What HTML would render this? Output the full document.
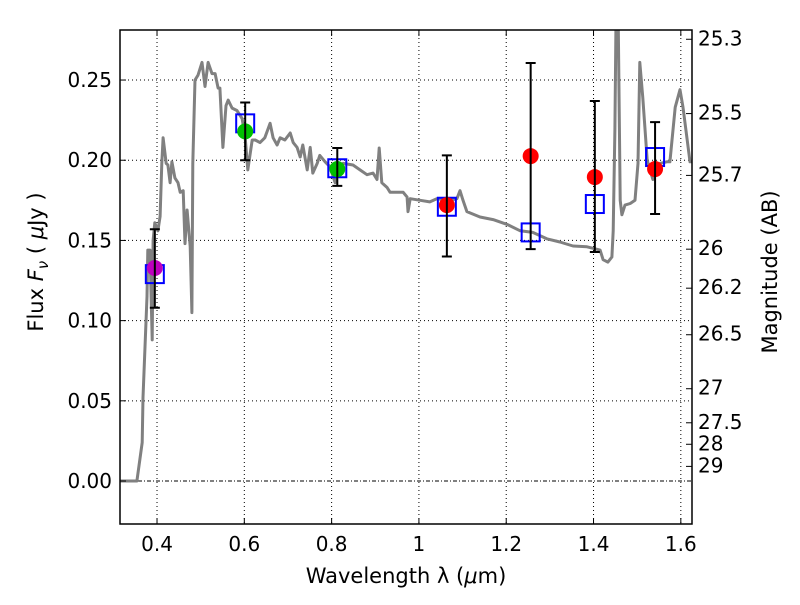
<!DOCTYPE html>
<html><head><meta charset="utf-8"><style>
body{margin:0;background:#fff}
svg text{font-family:"DejaVu Sans","Liberation Sans",sans-serif;fill:#000}
</style></head><body>
<svg id="chart" width="800" height="600" xmlns="http://www.w3.org/2000/svg">
<defs><clipPath id="clip"><rect x="120" y="30" width="572" height="494"/></clipPath></defs>
<rect x="0" y="0" width="800" height="600" fill="#fff"/>
<g id="grid"></g>
<g id="marks" clip-path="url(#clip)"></g>
<g id="pts"></g>
<rect x="120" y="30" width="572" height="494" fill="none" stroke="#000" stroke-width="1.5"/>
<g id="axes"></g>
<text x="406" y="583" font-size="21" text-anchor="middle">Wavelength  λ (<tspan font-style="italic">μ</tspan>m)</text>
<text transform="translate(43,262) rotate(-90)" font-size="21" text-anchor="middle">Flux  <tspan font-style="italic">F</tspan><tspan font-size="15" font-style="italic" dy="5">ν</tspan><tspan dy="-5">  ( </tspan><tspan font-style="italic">μ</tspan>Jy )</text>
<text transform="translate(777,272) rotate(-90)" font-size="21" text-anchor="middle">Magnitude (AB)</text>
</svg>
<script>
const specLam=[0.315,0.354,0.366,0.368,0.377,0.379,0.384,0.389,0.391,0.395,0.402,0.407,0.411,0.414,0.421,0.425,0.430,0.434,0.441,0.448,0.453,0.460,0.464,0.469,0.476,0.480,0.482,0.487,0.494,0.503,0.510,0.517,0.526,0.533,0.540,0.544,0.551,0.558,0.563,0.572,0.583,0.595,0.602,0.608,0.618,0.625,0.636,0.647,0.659,0.666,0.675,0.682,0.693,0.705,0.712,0.721,0.728,0.734,0.744,0.751,0.757,0.767,0.773,0.785,0.796,0.808,0.815,0.826,0.849,0.865,0.881,0.895,0.904,0.909,0.915,0.927,0.934,0.950,0.964,0.973,0.975,0.980,1.003,1.025,1.041,1.071,1.087,1.094,1.101,1.110,1.140,1.170,1.202,1.232,1.261,1.293,1.323,1.353,1.385,1.415,1.422,1.433,1.442,1.445,1.449,1.452,1.456,1.461,1.465,1.472,1.484,1.495,1.502,1.506,1.513,1.523,1.536,1.552,1.568,1.575,1.587,1.598,1.605,1.621,1.625];
const specFlux=[0,0,0.024,0.052,0.115,0.144,0.144,0.088,0.150,0.161,0.156,0.165,0.198,0.214,0.198,0.197,0.186,0.199,0.189,0.186,0.180,0.181,0.148,0.169,0.146,0.105,0.198,0.250,0.253,0.261,0.246,0.261,0.254,0.254,0.245,0.245,0.208,0.234,0.2375,0.2325,0.231,0.226,0.214,0.194,0.2126,0.2126,0.211,0.214,0.223,0.214,0.2095,0.214,0.2126,0.217,0.211,0.208,0.202,0.2095,0.194,0.208,0.192,0.198,0.203,0.199,0.196,0.186,0.195,0.198,0.197,0.194,0.191,0.192,0.188,0.2076,0.186,0.183,0.180,0.180,0.180,0.177,0.168,0.176,0.175,0.174,0.176,0.175,0.176,0.181,0.175,0.168,0.1646,0.163,0.160,0.156,0.155,0.151,0.149,0.1465,0.146,0.144,0.138,0.1365,0.1397,0.156,0.219,0.30,0.30,0.175,0.166,0.172,0.173,0.175,0.198,0.261,0.239,0.200,0.188,0.198,0.199,0.199,0.233,0.244,0.233,0.199,0.199];
const obsLam=[0.395,0.602,0.813,1.064,1.256,1.403,1.541];
const obsFlux=[0.1328,0.218,0.1945,0.172,0.2026,0.1895,0.1945];
const obsErrHi=[0.157,0.236,0.2076,0.203,0.2606,0.2369,0.2238];
const obsErrLo=[0.108,0.200,0.184,0.140,0.1446,0.1428,0.1665];
const obsColor=['#bf00bf','#00bf00','#00bf00','#ff0000','#ff0000','#ff0000','#ff0000'];
const modelFlux=[0.129,0.223,0.195,0.171,0.155,0.1727,0.202];
const xTicks=[0.4,0.6,0.8,1.0,1.2,1.4,1.6];
const xTickLabels=['0.4','0.6','0.8','1','1.2','1.4','1.6'];
const yTicks=[0,0.05,0.10,0.15,0.20,0.25];
const yTickLabels=['0.00','0.05','0.10','0.15','0.20','0.25'];
const magTicks=[25.3,25.5,25.7,26,26.2,26.5,27,27.5,28,29];
const magTickLabels=['25.3','25.5','25.7','26','26.2','26.5','27','27.5','28','29'];
const X0=0.3152,X1=1.6256,Y0=-0.0268,Y1=0.2812;
const PL=120,PR=692,PT=30,PB=524;
const sx=v=>PL+(v-X0)/(X1-X0)*(PR-PL);
const sy=v=>PB-(v-Y0)/(Y1-Y0)*(PB-PT);
const NS='http://www.w3.org/2000/svg';
function mk(tag,attrs,parent){const e=document.createElementNS(NS,tag);for(const k in attrs)e.setAttribute(k,attrs[k]);parent.appendChild(e);return e;}
const grid=document.getElementById('grid'),marks=document.getElementById('marks'),pts=document.getElementById('pts'),axes=document.getElementById('axes');
xTicks.forEach((t,i)=>{
  const x=sx(t);
  let g=mk('line',{x1:x,x2:x,y1:PT,y2:PB,stroke:'#000','stroke-width':1,'stroke-dasharray':'1,3'},grid);
  
  
  mk('line',{x1:x,x2:x,y1:PB,y2:PB-6,stroke:'#000','stroke-width':1},axes);
  mk('line',{x1:x,x2:x,y1:PT,y2:PT+6,stroke:'#000','stroke-width':1},axes);
  let tx=mk('text',{x:x,y:PB+27,'font-size':20,'text-anchor':'middle'},axes);
  tx.textContent=xTickLabels[i];
  
  
});
yTicks.forEach((t,i)=>{
  const y=sy(t);
  let g=mk('line',{x1:PL,x2:PR,y1:y,y2:y,stroke:'#000','stroke-width':1,'stroke-dasharray':t===0?'4,2,1,2':'1,3'},grid);
  
  
  mk('line',{x1:PL,x2:PL+6,y1:y,y2:y,stroke:'#000','stroke-width':1},axes);
  let tx=mk('text',{x:PL-8,y:y+7,'font-size':20,'text-anchor':'end'},axes);
  tx.textContent=yTickLabels[i];
  
  
});
magTicks.forEach((m,i)=>{
  const f=Math.pow(10,(23.9-m)/2.5);
  const y=sy(f);
  mk('line',{x1:PR,x2:PR-6,y1:y,y2:y,stroke:'#000','stroke-width':1},axes);
  let tx=mk('text',{x:PR+6,y:y+6,'font-size':20,'text-anchor':'start'},axes);
  tx.textContent=magTickLabels[i];
  
  
});
let d=specLam.map((l,i)=>(i?'L':'M')+sx(l).toFixed(1)+','+sy(specFlux[i]).toFixed(1)).join('');
let sp=mk('path',{d:d,fill:'none',stroke:'#808080','stroke-width':3,'stroke-linejoin':'round'},marks);


obsLam.forEach((l,i)=>{
  const x=sx(l);
  let sq=mk('rect',{x:x-9,y:sy(modelFlux[i])-9,width:18,height:18,fill:'none',stroke:'#0000ff','stroke-width':2},pts);
  
  
  let c=mk('circle',{cx:x,cy:sy(obsFlux[i]),r:8,fill:obsColor[i]},pts);
  
  
  const yh=sy(obsErrHi[i]),yl=sy(obsErrLo[i]);
  let eb=mk('path',{d:`M${x},${yh}L${x},${yl}M${x-5},${yh}L${x+5},${yh}M${x-5},${yl}L${x+5},${yl}`,stroke:'#000','stroke-width':2,fill:'none'},pts);
  
  
});
</script>
</body></html>
